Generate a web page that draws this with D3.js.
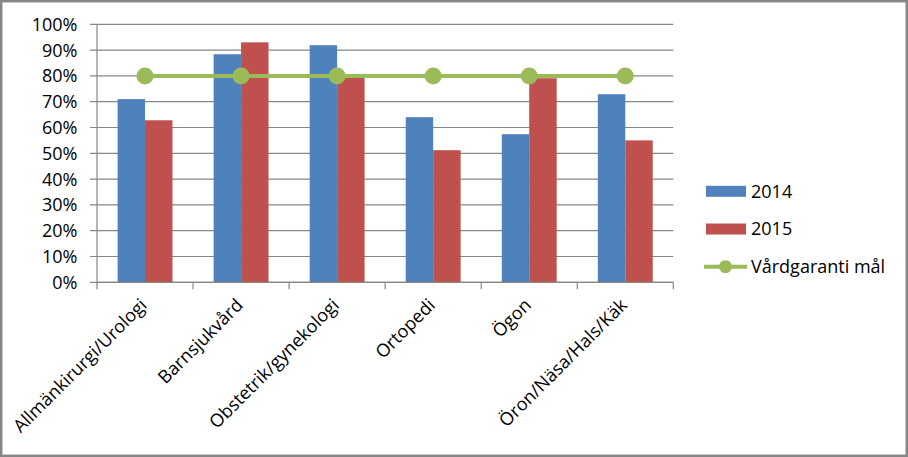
<!DOCTYPE html>
<html><head><meta charset="utf-8">
<script src="https://cdn.jsdelivr.net/npm/d3@7"></script>
<style>body{margin:0;background:#fff}svg{display:block}text{font-family:"Open Sans","Noto Sans",sans-serif;fill:#000}</style>
</head><body>
<svg id="c" width="908" height="457"></svg>
<script>
const categories = ["Allmänkirurgi/Urologi","Barnsjukvård","Obstetrik/gynekologi","Ortopedi","Ögon","Öron/Näsa/Hals/Käk"];
const values2014 = [0.71,0.884,0.919,0.64,0.574,0.729];
const values2015 = [0.628,0.93,0.792,0.512,0.791,0.55];
const target = [0.8,0.8,0.8,0.8,0.8,0.8];
const seriesNames = ["2014","2015","Vårdgaranti mål"];
const yTicks = [0,0.1,0.2,0.3,0.4,0.5,0.6,0.7,0.8,0.9,1.0];

const colors = {b:"#4F81BD", r:"#C0504D", g:"#9BBB59", grid:"#868686"};
const svg = d3.select("#c");
const L=97, R=673.3, T=24.3, B=282.3;
const fs = 18;

svg.append("rect").attr("x",1.2).attr("y",1.2).attr("width",905.6).attr("height",454.6)
  .attr("fill","#fff").attr("stroke",colors.grid).attr("stroke-width",2.5);

const x = d3.scaleBand().domain(categories).range([L,R]).paddingInner(0).paddingOuter(0);
const y = d3.scaleLinear().domain([0,1]).range([B,T]);
const bw = x.bandwidth()/3.5;

// gridlines
svg.append("g").selectAll("line").data(yTicks).join("line")
  .attr("x1",L-7).attr("x2",R).attr("y1",d=>y(d)).attr("y2",d=>y(d))
  .attr("stroke",colors.grid).attr("stroke-width",1.2);

// y axis labels
svg.append("g").selectAll("text").data(yTicks).join("text")
  .attr("x",L-19.5).attr("y",d=>y(d)).attr("dy","0.36em").attr("text-anchor","end")
  .attr("font-size",fs).text(d=>d3.format(".0%")(d));

// bars
const g = svg.append("g");
g.selectAll("rect.b").data(values2014).join("rect")
  .attr("x",(d,i)=>x(categories[i])+x.bandwidth()/2-bw).attr("width",bw)
  .attr("y",d=>y(d)).attr("height",d=>B-y(d)).attr("fill",colors.b);
g.selectAll("rect.r").data(values2015).join("rect")
  .attr("x",(d,i)=>x(categories[i])+x.bandwidth()/2).attr("width",bw)
  .attr("y",d=>y(d)).attr("height",d=>B-y(d)).attr("fill",colors.r);

// axes lines
svg.append("line").attr("x1",L).attr("x2",L).attr("y1",T).attr("y2",B).attr("stroke",colors.grid).attr("stroke-width",1.2);
svg.append("line").attr("x1",L).attr("x2",R).attr("y1",B).attr("y2",B).attr("stroke",colors.grid).attr("stroke-width",1.2);
const tickXs = categories.map(c=>x(c)).concat([R]);
svg.append("g").selectAll("line").data(tickXs).join("line")
  .attr("x1",d=>d).attr("x2",d=>d).attr("y1",B).attr("y2",B+7).attr("stroke",colors.grid).attr("stroke-width",1.2);

// target line
const cx = (d,i)=>x(categories[i])+x.bandwidth()/2;
svg.append("path").datum(target)
  .attr("d",d3.line().x(cx).y(d=>y(d)))
  .attr("fill","none").attr("stroke",colors.g).attr("stroke-width",4);
svg.append("g").selectAll("circle").data(target).join("circle")
  .attr("cx",cx).attr("cy",d=>y(d)).attr("r",8.5).attr("fill",colors.g);

// x labels
svg.append("g").selectAll("text").data(categories).join("text")
  .attr("transform",c=>`translate(${x(c)+x.bandwidth()/2+3},${B+24}) rotate(-45)`)
  .attr("text-anchor","end").attr("font-size",fs).text(c=>c);

// legend
const lg = svg.append("g");
const ly = [191.3,229,266.7];
lg.append("rect").attr("x",706).attr("y",ly[0]-5.5).attr("width",40).attr("height",11).attr("fill",colors.b);
lg.append("rect").attr("x",706).attr("y",ly[1]-5.5).attr("width",40).attr("height",11).attr("fill",colors.r);
lg.append("line").attr("x1",704).attr("x2",747).attr("y1",ly[2]).attr("y2",ly[2]).attr("stroke",colors.g).attr("stroke-width",4);
lg.append("circle").attr("cx",725.5).attr("cy",ly[2]).attr("r",6.5).attr("fill",colors.g);
lg.selectAll("text").data(seriesNames).join("text")
  .attr("x",751).attr("y",(d,i)=>ly[i]).attr("dy","0.36em").attr("font-size",fs).text(d=>d);
</script>
</body></html>
